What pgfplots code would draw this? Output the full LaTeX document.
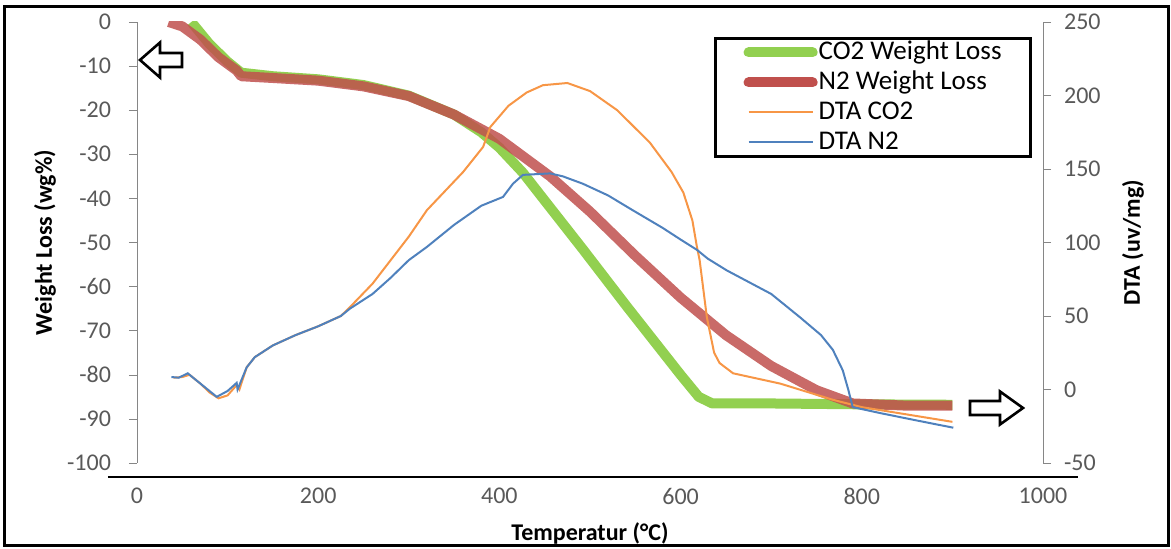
\documentclass[border=0pt]{standalone}
\usepackage{fontspec}
\setmainfont{Carlito}
\usepackage{pgfplots}
\pgfplotsset{compat=1.18}
\definecolor{co2green}{HTML}{92D050}
\definecolor{n2red}{HTML}{C0504D}
\definecolor{dtaorange}{HTML}{F79646}
\definecolor{dtablue}{HTML}{4F81BD}
\definecolor{axgray}{HTML}{868686}
\definecolor{lblgray}{HTML}{595959}

\pgfplotsset{
  tga/.style={
    scale only axis,
    width=453pt, height=220.5pt,
    xmin=0, xmax=1000,
    /pgf/number format/assume math mode=true,
    /pgf/number format/1000 sep={},
    tick label style={font=\fontsize{12}{14}\selectfont, text=lblgray},
    label style={font=\bfseries\fontsize{12}{14}\selectfont, text=black},
    tick align=outside,
    major tick length=4pt,
  },
}

\begin{document}
\begin{tikzpicture}
% page size and outer frame
\path[use as bounding box] (-68.5pt,-43pt) rectangle (517pt,231.5pt);
\draw[black, line width=1.5pt] (-66pt,-41.5pt) rectangle (515.5pt,228pt);

\begin{axis}[
  tga,
  axis y line*=left,
  axis x line*=bottom,
  x axis line style={draw=none},
  xtick={0,200,...,1000},
  xtick style={draw=none},
  xticklabel style={yshift=-5pt},
  ymin=-100, ymax=0,
  ytick={-100,-90,...,0},
  y axis line style={axgray,-},
  ytick style={axgray},
  yticklabel style={xshift=-5.5pt},
  xlabel={Temperatur (°C)},
  xlabel style={at={(axis description cs:0.5,-0.1587)}, anchor=center},
  ylabel={Weight Loss (wg\%)},
  ylabel style={at={(axis description cs:-0.1015,0.5)}, anchor=center},
]
% CO2 weight loss
\addplot[co2green, line width=5pt, line join=round] coordinates {
  (60,0) (80,-5) (100,-9) (115,-11.5) (150,-12.3) (200,-13) (250,-14.3)
  (300,-16.7) (350,-21) (380,-25) (400,-28.5) (426,-34.2) (450,-40.5)
  (492,-51.5) (541,-64.6) (600,-80) (620,-85) (635,-86.5) (700,-86.5)
  (800,-86.7) (900,-86.8)
};
% N2 weight loss
\addplot[n2red, opacity=0.85, line width=5pt, line join=round] coordinates {
  (35,0) (50,-1) (70,-4) (90,-8) (110,-11) (115,-12.3) (150,-12.7)
  (200,-13.3) (250,-14.6) (300,-16.8) (350,-21) (400,-26.5) (456,-35)
  (500,-43) (550,-53) (600,-62.5) (650,-71) (700,-78) (750,-83.5)
  (790,-86.5) (850,-87) (900,-87)
};
\end{axis}

\begin{axis}[
  tga,
  axis y line*=right,
  axis x line=none,
  ymin=-50, ymax=250,
  ytick={-50,0,...,250},
  y axis line style={axgray,-},
  ytick style={axgray},
  yticklabel style={xshift=3pt},
  ylabel={DTA (uv/mg)},
  ylabel style={at={(axis description cs:1.0993,0.5)}, anchor=center},
  legend cell align=left,
  legend image code/.code={\draw[#1] (0pt,0pt) -- (32pt,0pt);},
  legend style={
    at={(axis description cs:0.637,0.966)}, anchor=north west,
    draw=black, line width=1.5pt, fill=white,
    font=\fontsize{13.5}{15}\selectfont,
    inner xsep=14pt, inner ysep=0.5pt,
    row sep=2pt,
    nodes={inner sep=0.5pt, text height=9.5pt, text depth=2.5pt},
  },
]
\addlegendimage{co2green, line width=5pt, line cap=round}
\addlegendentry{CO2 Weight Loss}
\addlegendimage{n2red, line width=5pt, line cap=round}
\addlegendentry{N2 Weight Loss}
% DTA CO2
\addplot[dtaorange, line width=1pt] coordinates {
  (40,8) (50,8.5) (58,10) (70,4) (80,-2) (90,-6) (100,-4) (110,3) (113,0)
  (121,15) (130,22) (150,30) (175,37) (200,43) (225,50) (235,56) (260,72)
  (280,88) (300,104) (320,122) (340,135) (360,148) (382,165) (390,178.6)
  (410,193) (430,202) (448,207) (475,208.5) (500,203) (530,190) (566,168)
  (590,148) (603,134) (613,115) (618,97) (621,88) (629,49) (637,25)
  (643,18) (658,11) (710,4) (768,-7) (800,-12) (850,-17) (900,-22)
};
\addlegendentry{DTA CO2}
% DTA N2
\addplot[dtablue, line width=1pt] coordinates {
  (38,8.5) (46,8) (56,11) (70,4) (88,-5) (100,-1) (110,4.5) (111,0)
  (121,15) (130,22) (150,30) (175,37) (200,43) (225,50) (235,55) (260,65)
  (280,76) (300,88) (320,97) (350,112) (380,125) (400,130) (404,131)
  (415,140) (426,146) (456,147) (470,145) (492,140) (520,132) (547,122)
  (580,110) (600,102) (618,95) (630,89) (651,81) (700,65) (732,49)
  (755,37) (768,27) (779,13) (785,0) (790,-12) (820,-16) (860,-21) (901,-26)
};
\addlegendentry{DTA N2}
\end{axis}

% x axis line, set a little below the plot as in the original
\draw[black, line width=1.2pt] (-14.5pt,-7pt) -- (470.5pt,-7pt);
% hollow arrows pointing to the axes
\draw[black, line width=1.3pt, line join=miter]
  (1.5pt,201.5pt) -- (11.5pt,210.25pt) -- (11.5pt,205pt) -- (22.5pt,205pt)
  -- (22.5pt,198pt) -- (11.5pt,198pt) -- (11.5pt,192.75pt) -- cycle;
\draw[black, line width=1.3pt, line join=miter]
  (443pt,27.5pt) -- (431.5pt,35.75pt) -- (431.5pt,31pt) -- (416.5pt,31pt)
  -- (416.5pt,24pt) -- (431.5pt,24pt) -- (431.5pt,19.25pt) -- cycle;
\end{tikzpicture}
\end{document}
